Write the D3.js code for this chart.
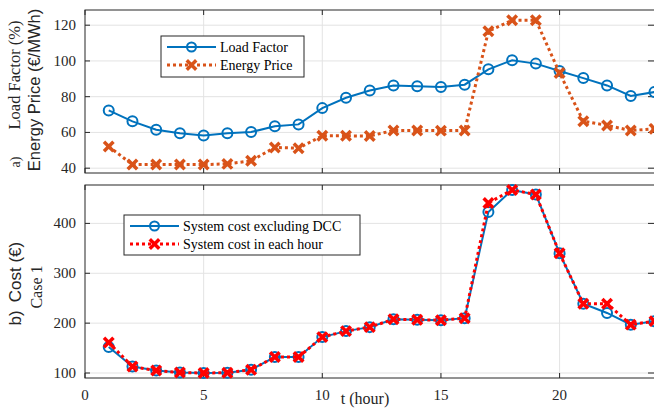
<!DOCTYPE html>
<html>
<head>
<meta charset="utf-8">
<script src="https://cdnjs.cloudflare.com/ajax/libs/d3/7.8.5/d3.min.js"></script>
<style>
  body { margin: 0; background: #fff; }
  svg { display: block; }
  .serif { font-family: 'Liberation Serif', 'Times New Roman', serif; }
  .sans { font-family: 'Liberation Sans', Arial, sans-serif; }
</style>
</head>
<body>
<script>
// data
var hours = [1,2,3,4,5,6,7,8,9,10,11,12,13,14,15,16,17,18,19,20,21,22,23,24];
var loadFactor = [72.3,66.2,61.5,59.6,58.3,59.6,60.2,63.5,64.5,73.6,79.4,83.5,86.2,85.8,85.4,86.7,95.3,100.4,98.5,94.4,90.4,86.3,80.4,82.6];
var energyPrice = [52.1,42,42,42,42,42.4,44.1,51.6,51.2,58.1,58.1,58,61.1,61.1,61,61.1,116.6,122.8,122.8,93.3,66.3,63.9,61.1,62];
var costExclDCC = [152,113,105,101,100,100.6,106.6,132,132,172,184,192,207.7,207,205.8,210,423,467,458,340,239,220.4,197,204];
var costEachHour = [161,113,105,101,100,100.6,106.6,132,132,172,184,192,207.7,207,205.8,210,441,467,458,340,239,239,197,204];
var xTicks = [0,5,10,15,20];
var topTicks = [40,60,80,100,120];
var botTicks = [100,200,300,400];

var W = 654, H = 408;
var blue = "#0072BD", orange = "#D95319", red = "#FF0000";
var axisCol = "#262626", gridCol = "#e3e3e3";

var svg = d3.select("body").append("svg").attr("width", W).attr("height", H);

var x = d3.scaleLinear().domain([0, 24]).range([85, 654.5]);
var yTop = d3.scaleLinear().domain([37.3, 128.5]).range([173, 10]);
var yBot = d3.scaleLinear().domain([90, 477]).range([378, 185]);

function panel(y, yt, showX) {
  var g = svg.append("g");
  var x0 = x.range()[0], x1 = x.range()[1], yA = y.range()[0], yB = y.range()[1];
  // grid
  g.selectAll(".gx").data(xTicks.filter(d => d > 0)).enter().append("line")
    .attr("x1", d => x(d)).attr("x2", d => x(d)).attr("y1", yA).attr("y2", yB)
    .attr("stroke", gridCol).attr("stroke-width", 1);
  g.selectAll(".gy").data(yt).enter().append("line")
    .attr("x1", x0).attr("x2", x1).attr("y1", d => y(d)).attr("y2", d => y(d))
    .attr("stroke", gridCol).attr("stroke-width", 1);
  // ticks (inward, all four sides)
  g.selectAll(".tb").data(xTicks).enter().append("line")
    .attr("x1", d => x(d)).attr("x2", d => x(d)).attr("y1", yA).attr("y2", yA - 5)
    .attr("stroke", axisCol);
  g.selectAll(".tt").data(xTicks).enter().append("line")
    .attr("x1", d => x(d)).attr("x2", d => x(d)).attr("y1", yB).attr("y2", yB + 5)
    .attr("stroke", axisCol);
  g.selectAll(".tl").data(yt).enter().append("line")
    .attr("x1", x0).attr("x2", x0 + 5).attr("y1", d => y(d)).attr("y2", d => y(d))
    .attr("stroke", axisCol);
  g.selectAll(".tr").data(yt).enter().append("line")
    .attr("x1", 648).attr("x2", x1).attr("y1", d => y(d)).attr("y2", d => y(d))
    .attr("stroke", axisCol);
  g.append("rect").attr("x", x0).attr("y", yB).attr("width", x1 - x0).attr("height", yA - yB)
    .attr("fill", "none").attr("stroke", axisCol).attr("stroke-width", 1);
  // y tick labels
  g.selectAll(".yl").data(yt).enter().append("text").attr("class", "serif")
    .attr("x", 76).attr("y", d => y(d) + 5).attr("text-anchor", "end")
    .attr("font-size", 15).attr("fill", axisCol).text(d => d);
  if (showX) {
    g.selectAll(".xl").data(xTicks).enter().append("text").attr("class", "serif")
      .attr("x", d => x(d)).attr("y", 400).attr("text-anchor", "middle")
      .attr("font-size", 15).attr("fill", axisCol).text(d => d);
  }
  return g;
}

function xMark(g, px, py, col, s, sw) {
  g.append("path")
    .attr("d", "M" + (px - s) + "," + (py - s) + "L" + (px + s) + "," + (py + s) +
               "M" + (px - s) + "," + (py + s) + "L" + (px + s) + "," + (py - s))
    .attr("stroke", col).attr("stroke-width", sw).attr("stroke-linecap", "square");
}

function series(g, vals, y, col, dotted, marker) {
  var line = d3.line().x((d, i) => x(hours[i])).y(d => y(d));
  g.append("path").datum(vals).attr("d", line).attr("fill", "none")
    .attr("stroke", col).attr("stroke-width", dotted ? 3 : 2)
    .attr("stroke-dasharray", dotted ? "3,3" : null);
  vals.forEach(function(v, i) {
    if (marker === "o") {
      g.append("circle").attr("cx", x(hours[i])).attr("cy", y(v)).attr("r", 5)
        .attr("fill", "none").attr("stroke", col).attr("stroke-width", 2);
    } else {
      xMark(g, x(hours[i]), y(v), col, 3.5, 3.5);
    }
  });
}

// panel a
var gA = panel(yTop, topTicks, false);
series(gA, loadFactor, yTop, blue, false, "o");
series(gA, energyPrice, yTop, orange, true, "x");

// panel b
var gB = panel(yBot, botTicks, true);
series(gB, costExclDCC, yBot, blue, false, "o");
series(gB, costEachHour, yBot, red, true, "x");

// legends
function legend(bx, by, bw, bh, items) {
  var g = svg.append("g");
  g.append("rect").attr("x", bx).attr("y", by).attr("width", bw).attr("height", bh)
    .attr("fill", "#fff").attr("stroke", axisCol).attr("stroke-width", 1);
  items.forEach(function(it, i) {
    var cy = by + 11 + i * 18;
    var lx0 = bx + 6, lx1 = bx + 55, mx = (lx0 + lx1) / 2;
    g.append("line").attr("x1", lx0).attr("x2", lx1).attr("y1", cy).attr("y2", cy)
      .attr("stroke", it.col).attr("stroke-width", it.dotted ? 3 : 2)
      .attr("stroke-dasharray", it.dotted ? "3,3" : null);
    if (it.m === "o") {
      g.append("circle").attr("cx", mx).attr("cy", cy).attr("r", 4.5)
        .attr("fill", "none").attr("stroke", it.col).attr("stroke-width", 2);
    } else {
      xMark(g, mx, cy, it.col, 3.5, 3.5);
    }
    g.append("text").attr("class", "serif").attr("x", lx1 + 4).attr("y", cy + 5)
      .attr("font-size", 14).attr("fill", "#000").text(it.label);
  });
}
legend(161, 36, 143, 41, [
  {label: "Load Factor", col: blue, m: "o"},
  {label: "Energy Price", col: orange, m: "x", dotted: true}
]);
legend(124, 215, 236, 40, [
  {label: "System cost excluding DCC", col: blue, m: "o"},
  {label: "System cost in each hour", col: red, m: "x", dotted: true}
]);

// axis titles
function vtext(cx, cy, txt, cls, size, col) {
  svg.append("text").attr("class", cls)
    .attr("transform", "translate(" + cx + "," + cy + ") rotate(-90)")
    .attr("text-anchor", "middle").attr("font-size", size).attr("fill", col).text(txt);
}
vtext(20, 162, "a)", "serif", 14, axisCol);
vtext(20, 75, "Load Factor (%)", "serif", 16.5, axisCol);
vtext(40, 90, "Energy Price (€/MWh)", "sans", 16.5, axisCol);
vtext(21, 318, "b)", "sans", 17, axisCol);
vtext(21, 272, "Cost (€)", "sans", 17, axisCol);
vtext(42, 287, "Case 1", "serif", 16, axisCol);

svg.append("text").attr("class", "serif").attr("x", 365).attr("y", 404)
  .attr("text-anchor", "middle").attr("font-size", 16).attr("fill", axisCol).text("t (hour)");
</script>
</body>
</html>
